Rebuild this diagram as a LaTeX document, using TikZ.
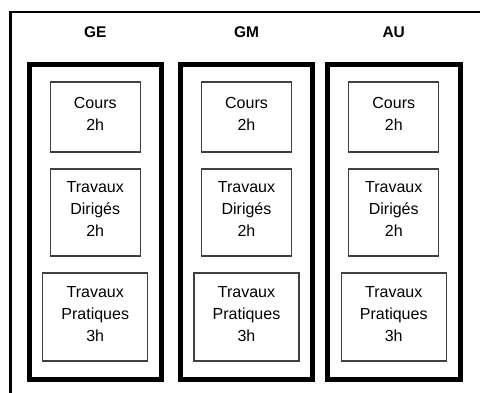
\documentclass[tikz,border=0pt]{standalone}
\usepackage{fontspec}
\setmainfont{Liberation Sans}
\usepackage{xcolor}
\definecolor{slotgray}{RGB}{64,64,64}
\usepackage{tikz}
\usetikzlibrary{positioning}

\begin{document}
\begin{tikzpicture}[x=1pt,y=1pt,
    colbox/.style={draw=black,line width=5pt,outer sep=0pt,
                   minimum width=132.5pt,minimum height=314pt},
    slot/.style={draw=slotgray,line width=1.2pt,outer sep=0pt,inner sep=0pt,
                 align=center,font=\fontsize{16}{22}\selectfont,
                 execute at end node=\strut,minimum width=90pt},
    collabel/.style={inner sep=0pt,font=\fontsize{15.5}{18}\selectfont\bfseries},
    node distance=17pt]
  \useasboundingbox (0,0) rectangle (480,392);
  \begin{scope}
    \clip (0,0) rectangle (480,392);
    \draw[line width=2.5pt] (10.5,-20) rectangle (500,380);
  \end{scope}

  % GE
  \node[colbox] (ge) at (95.25,170) {};
  \node[collabel,above=26.7pt of ge.north] (ge-label) {GE};
  \node[slot,minimum height=70pt,below=17pt of ge.north] (ge-cours) {Cours\\2h};
  \node[slot,minimum height=87pt,below=of ge-cours] (ge-td) {Travaux\\Dirigés\\2h};
  \node[slot,minimum height=88pt,minimum width=105pt,below=of ge-td] (ge-tp) {Travaux\\Pratiques\\3h};

  % GM
  \node[colbox] (gm) at (246.5,170) {};
  \node[collabel,above=26.7pt of gm.north] (gm-label) {GM};
  \node[slot,minimum height=70pt,below=17pt of gm.north] (gm-cours) {Cours\\2h};
  \node[slot,minimum height=87pt,below=of gm-cours] (gm-td) {Travaux\\Dirigés\\2h};
  \node[slot,minimum height=88pt,minimum width=105pt,below=of gm-td] (gm-tp) {Travaux\\Pratiques\\3h};

  % AU
  \node[colbox] (au) at (393.75,170) {};
  \node[collabel,above=26.7pt of au.north] (au-label) {AU};
  \node[slot,minimum height=70pt,below=17pt of au.north] (au-cours) {Cours\\2h};
  \node[slot,minimum height=87pt,below=of au-cours] (au-td) {Travaux\\Dirigés\\2h};
  \node[slot,minimum height=88pt,minimum width=105pt,below=of au-td] (au-tp) {Travaux\\Pratiques\\3h};
\end{tikzpicture}
\end{document}
